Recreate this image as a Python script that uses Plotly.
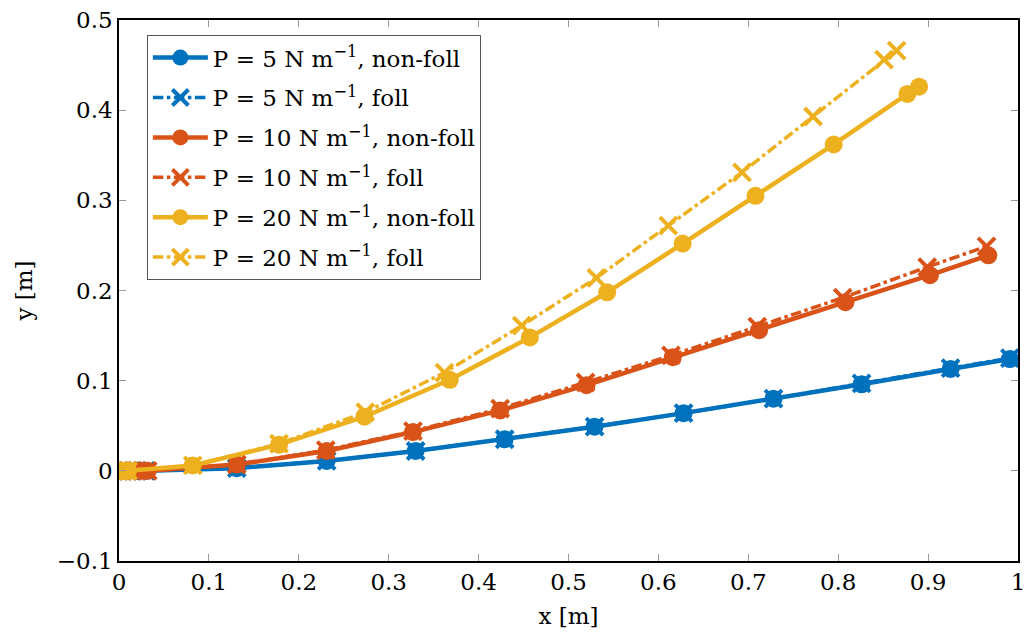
import plotly.graph_objects as go

# ---- data ----
x_p5_nf = [0, 0.01, 0.02, 0.03, 0.131, 0.231, 0.330, 0.429, 0.529, 0.628, 0.728, 0.826, 0.925, 0.991]
y_p5_nf = [0, 0, 0, 0, 0.003, 0.011, 0.022, 0.035, 0.049, 0.064, 0.080, 0.096, 0.113, 0.124]
x_p5_f = [0, 0.01, 0.02, 0.03, 0.131, 0.231, 0.330, 0.429, 0.529, 0.628, 0.728, 0.826, 0.925, 0.991]
y_p5_f = [0, 0, 0, 0, 0.003, 0.011, 0.022, 0.035, 0.049, 0.064, 0.080, 0.097, 0.114, 0.125]

x_p10_nf = [0, 0.01, 0.02, 0.032, 0.131, 0.231, 0.327, 0.424, 0.520, 0.616, 0.712, 0.808, 0.902, 0.967]
y_p10_nf = [0, 0, 0, 0, 0.007, 0.022, 0.043, 0.067, 0.095, 0.126, 0.156, 0.187, 0.217, 0.239]
x_p10_f = [0, 0.01, 0.02, 0.032, 0.131, 0.230, 0.327, 0.424, 0.519, 0.614, 0.710, 0.805, 0.899, 0.965]
y_p10_f = [0, 0, 0, 0, 0.007, 0.023, 0.044, 0.069, 0.098, 0.128, 0.160, 0.192, 0.226, 0.249]

x_p20_nf = [0, 0.005, 0.01, 0.082, 0.178, 0.273, 0.368, 0.457, 0.543, 0.627, 0.708, 0.795, 0.877, 0.890]
y_p20_nf = [0, 0, 0, 0.006, 0.029, 0.060, 0.101, 0.148, 0.198, 0.252, 0.305, 0.362, 0.418, 0.426]
x_p20_f = [0, 0.005, 0.01, 0.082, 0.178, 0.274, 0.362, 0.448, 0.531, 0.611, 0.693, 0.772, 0.851, 0.865]
y_p20_f = [0, 0, 0, 0.006, 0.030, 0.065, 0.109, 0.161, 0.214, 0.272, 0.331, 0.393, 0.456, 0.466]

x_ticks = [0, 0.1, 0.2, 0.3, 0.4, 0.5, 0.6, 0.7, 0.8, 0.9, 1]
x_tick_labels = ["0", "0.1", "0.2", "0.3", "0.4", "0.5", "0.6", "0.7", "0.8", "0.9", "1"]
y_ticks = [-0.1, 0, 0.1, 0.2, 0.3, 0.4, 0.5]
y_tick_labels = ["\u22120.1", "0", "0.1", "0.2", "0.3", "0.4", "0.5"]

names = [
    "P = 5 N m<sup>\u22121</sup>, non-foll",
    "P = 5 N m<sup>\u22121</sup>, foll",
    "P = 10 N m<sup>\u22121</sup>, non-foll",
    "P = 10 N m<sup>\u22121</sup>, foll",
    "P = 20 N m<sup>\u22121</sup>, non-foll",
    "P = 20 N m<sup>\u22121</sup>, foll",
]

BLUE = "#0072BD"
ORANGE = "#D95319"
YELLOW = "#EDB120"

series = [
    (x_p5_nf, y_p5_nf, BLUE, False),
    (x_p5_f, y_p5_f, BLUE, True),
    (x_p10_nf, y_p10_nf, ORANGE, False),
    (x_p10_f, y_p10_f, ORANGE, True),
    (x_p20_nf, y_p20_nf, YELLOW, False),
    (x_p20_f, y_p20_f, YELLOW, True),
]

FONT = "DejaVu Serif"
FS = 23

fig = go.Figure()
for i, (xs, ys, col, foll) in enumerate(series):
    if foll:
        line = dict(color=col, width=3.5, dash="dashdot")
        marker = dict(symbol="x-thin", size=17, color=col, line=dict(color=col, width=4))
    else:
        line = dict(color=col, width=4.5)
        marker = dict(symbol="circle", size=18, color=col, line=dict(width=0))
    fig.add_trace(go.Scatter(
        x=xs, y=ys, mode="lines+markers", name=names[i],
        line=line, marker=marker, legendgroup=f"g{i}",
    ))

fig.update_layout(
    width=1032, height=634,
    margin=dict(l=119, r=7, t=18, b=73),
    paper_bgcolor="white", plot_bgcolor="white",
    font=dict(family=FONT, size=FS, color="black"),
    showlegend=True,
    legend=dict(
        x=0.031, y=0.972, xanchor="left", yanchor="top",
        bgcolor="white", bordercolor="#555555", borderwidth=1,
        font=dict(family=FONT, size=FS, color="black"),
        tracegroupgap=7, traceorder="grouped", itemwidth=55,
    ),
)

fig.update_xaxes(
    range=[0, 1], tickvals=x_ticks, ticktext=x_tick_labels,
    showgrid=False, zeroline=False,
    showline=True, linecolor="black", linewidth=1.5, mirror="ticks",
    ticks="inside", ticklen=7, tickcolor="#999999", tickwidth=1.2,
    tickfont=dict(family=FONT, size=FS),
    title=dict(text="x [m]", font=dict(family=FONT, size=FS), standoff=14),
)
fig.update_yaxes(
    range=[-0.1, 0.5], tickvals=y_ticks, ticktext=y_tick_labels,
    showgrid=False, zeroline=False,
    showline=True, linecolor="black", linewidth=1.5, mirror="ticks",
    ticks="inside", ticklen=7, tickcolor="#999999", tickwidth=1.2,
    tickfont=dict(family=FONT, size=FS),
    title=dict(text="y [m]", font=dict(family=FONT, size=FS), standoff=18),
)

fig.write_html("out.html")
